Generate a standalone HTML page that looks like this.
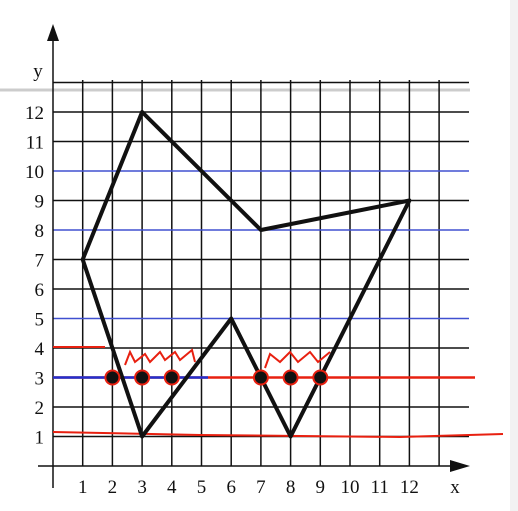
<!DOCTYPE html>
<html><head><meta charset="utf-8"><style>
body{margin:0;background:#fff}
svg{display:block}
text{font-family:"Liberation Serif",serif;font-size:19px;fill:#111}
</style></head><body>
<svg id="c" width="518" height="511">
<rect x="510" y="0" width="8" height="511" fill="#f2f2f2"/>
<line x1="0" y1="90" x2="470" y2="90" stroke="#ccc" stroke-width="3"/>
<g id="grid"></g><g id="marks"></g>
</svg>
<script>
const xTicks=[1,2,3,4,5,6,7,8,9,10,11,12];
const yTicks=[1,2,3,4,5,6,7,8,9,10,11,12];
const blueLines=[3,5,8,10];
const shapeX=[1,3,7,12,8,6,3];
const shapeY=[7,12,8,9,1,5,1];
const dotX=[2,3,4,7,8,9];
const dotY=[3,3,3,3,3,3];
const X=v=>53+29.7*v, Y=v=>466-29.5*v;
const NS='http://www.w3.org/2000/svg';
const g=document.getElementById('grid'), m=document.getElementById('marks');
function mk(p,tag,a){const e=document.createElementNS(NS,tag);for(const k in a)e.setAttribute(k,a[k]);p.appendChild(e);return e;}
for(let i=1;i<=13;i++){const l=mk(g,'line',{x1:X(i),y1:80,x2:X(i),y2:466,stroke:'#111','stroke-width':1.5});

}
for(let j=1;j<=13;j++){const b=blueLines.includes(j);const l=mk(g,'line',{x1:53,y1:Y(j),x2:469,y2:Y(j),stroke:b?'#4050d0':'#111','stroke-width':1.5});

}
let a=mk(g,'line',{x1:53,y1:40,x2:53,y2:488,stroke:'#111','stroke-width':1.5});


a=mk(g,'line',{x1:38,y1:466,x2:455,y2:466,stroke:'#111','stroke-width':1.5});


a=mk(g,'polygon',{points:'53,24 47,41 59,41',fill:'#111'});


a=mk(g,'polygon',{points:'470,466 450,460 450,472',fill:'#111'});


xTicks.forEach(v=>{const t=mk(g,'text',{x:X(v),y:493,'text-anchor':'middle'});t.textContent=v;

});
yTicks.forEach(v=>{const t=mk(g,'text',{x:44,y:Y(v)+7,'text-anchor':'end'});t.textContent=v;

});
let t=mk(g,'text',{x:455,y:493,'text-anchor':'middle'});t.textContent='x';


t=mk(g,'text',{x:38,y:77,'text-anchor':'middle'});t.textContent='y';


// red lines
let r=mk(m,'line',{x1:53,y1:347,x2:105,y2:347,stroke:'#e82010','stroke-width':2});


r=mk(m,'line',{x1:53,y1:Y(3),x2:475,y2:Y(3),stroke:'#e82010','stroke-width':2.5});


r=mk(m,'line',{x1:53,y1:Y(3),x2:208,y2:Y(3),stroke:'#2030d0','stroke-width':2.5});


r=mk(m,'polyline',{points:'53,432 200,435 400,437 503,434',fill:'none',stroke:'#e82010','stroke-width':2});


r=mk(m,'polyline',{points:'125,365 130,352 135,362 145,354 150,362 160,352 165,360 175,352 180,360 192,350 195,362',fill:'none',stroke:'#e82010','stroke-width':2});


r=mk(m,'polyline',{points:'265,368 270,354 280,362 290,352 298,362 310,352 318,362 330,352',fill:'none',stroke:'#e82010','stroke-width':2});


const pts=shapeX.map((v,i)=>X(v)+','+Y(shapeY[i])).join(' ');
const p=mk(m,'polygon',{points:pts,fill:'none',stroke:'#111','stroke-width':4,'stroke-linejoin':'round'});


dotX.forEach((v,i)=>{const c=mk(m,'circle',{cx:X(v),cy:Y(dotY[i]),r:7,fill:'#111',stroke:'#e82010','stroke-width':2});

});
</script>
</body></html>
